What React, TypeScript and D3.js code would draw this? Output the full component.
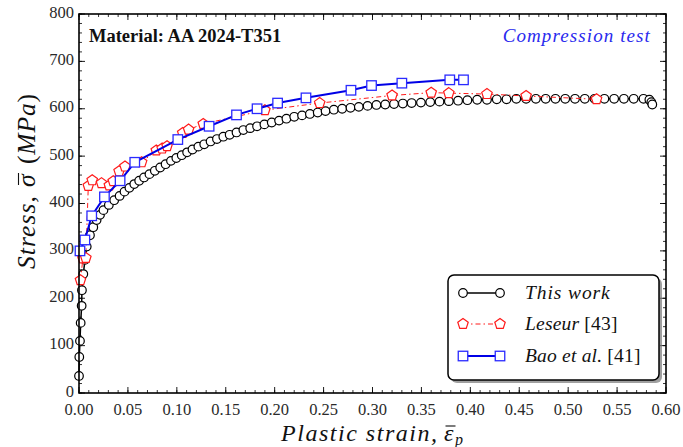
import React from 'react';
import * as d3 from 'd3';

// ---- data (strain, stress MPa) ----
const thisWorkStrain = [0.0, 0.0003, 0.001, 0.0017, 0.0027, 0.003, 0.0044, 0.0061, 0.0079, 0.0112, 0.0146, 0.018, 0.0215, 0.025, 0.0305, 0.036, 0.0415, 0.0465, 0.0515, 0.0565, 0.0615, 0.0665, 0.072, 0.0775, 0.083, 0.0885, 0.094, 0.0995, 0.105, 0.1105, 0.116, 0.122, 0.128, 0.1345, 0.141, 0.1475, 0.154, 0.161, 0.168, 0.175, 0.182, 0.1895, 0.197, 0.2045, 0.212, 0.22, 0.228, 0.236, 0.244, 0.252, 0.2605, 0.269, 0.2775, 0.286, 0.295, 0.304, 0.313, 0.322, 0.331, 0.34, 0.3495, 0.359, 0.3685, 0.378, 0.3875, 0.397, 0.407, 0.417, 0.427, 0.437, 0.447, 0.457, 0.467, 0.477, 0.487, 0.497, 0.507, 0.517, 0.527, 0.537, 0.547, 0.557, 0.567, 0.577, 0.583, 0.585, 0.586];
const thisWorkStress = [36, 76, 110, 148, 184, 217, 251, 281, 309, 333, 350, 365, 376, 386, 397, 407, 416, 425, 433, 441, 448, 455, 462, 469, 476, 483, 490, 496, 502, 508, 514, 520, 525, 531, 536, 541, 545, 550, 555, 559, 563, 567, 571, 575, 579, 583, 586, 589, 592, 595, 598, 600, 602, 604, 606, 608, 609, 610, 611, 612, 613, 614, 615, 616, 617, 618, 619, 619, 620, 620, 621, 621, 621, 621, 621, 621, 621, 621, 621, 621, 621, 621, 621, 621, 619, 614, 609];

const leseurStrain = [0.0015, 0.004, 0.007, 0.0095, 0.0135, 0.023, 0.031, 0.035, 0.041, 0.047, 0.064, 0.079, 0.085, 0.09, 0.106, 0.112, 0.127, 0.19, 0.246, 0.32, 0.36, 0.378, 0.417, 0.457, 0.529];
const leseurStress = [238, 284, 285, 437, 449, 443, 438, 447, 468, 478, 487, 512, 516, 521, 549, 556, 568, 597, 612, 628, 634, 633, 631, 627, 620];

const baoStrain = [0.001, 0.006, 0.013, 0.026, 0.042, 0.057, 0.101, 0.133, 0.161, 0.182, 0.203, 0.232, 0.278, 0.299, 0.33, 0.379, 0.393];
const baoStress = [300, 323, 374, 414, 448, 487, 535, 563, 587, 600, 612, 623, 639, 649, 654, 661, 661];

const xTickValues = [0, 0.05, 0.1, 0.15, 0.2, 0.25, 0.3, 0.35, 0.4, 0.45, 0.5, 0.55, 0.6];
const yTickValues = [0, 100, 200, 300, 400, 500, 600, 700, 800];

const W = 683;
const H = 447;
const L = 79, R = 666, T = 14, B = 393;
const SERIF = '"Liberation Serif", "DejaVu Serif", serif';

function pentagonPath(r: number) {
  const pts = d3.range(5).map((k) => {
    const a = (-90 + 72 * k) * Math.PI / 180;
    return [r * Math.cos(a), r * Math.sin(a)];
  });
  return 'M' + pts.map((p) => p.join(',')).join('L') + 'Z';
}

export default function App() {
  const x = d3.scaleLinear().domain([0, 0.6]).range([L, R]);
  const y = d3.scaleLinear().domain([0, 800]).range([B, T]);
  const line = d3.line<[number, number]>().x((d) => x(d[0])).y((d) => y(d[1]));

  const black: [number, number][] = thisWorkStrain.map((s, i) => [s, thisWorkStress[i]]);
  const red: [number, number][] = leseurStrain.map((s, i) => [s, leseurStress[i]]);
  const blue: [number, number][] = baoStrain.map((s, i) => [s, baoStress[i]]);

  const xMinor = d3.range(0, 0.6001, 0.01);
  const yMinor = d3.range(0, 801, 20);
  const pent = pentagonPath(5.5);
  const sq = 9.5;

  const legX0 = 463, legX1 = 500, legT = 525;
  const rows = [293, 324, 356];
  const redC = '#ff1a1a';
  const blueL = '#0000e6';
  const blueM = '#2a2aff';

  return (
    <svg width={W} height={H} style={{ position: 'absolute', left: 0, top: 0, background: '#fff' }}>
      <rect x={0} y={0} width={W} height={H} fill="#fff" />
      {/* minor ticks */}
      {xMinor.map((v, i) => (
        <g key={'xm' + i} stroke="#000" strokeWidth={0.8}>
          <line x1={x(v)} x2={x(v)} y1={B} y2={B - 3} />
          <line x1={x(v)} x2={x(v)} y1={T} y2={T + 3} />
        </g>
      ))}
      {yMinor.map((v, i) => (
        <g key={'ym' + i} stroke="#000" strokeWidth={0.8}>
          <line x1={L} x2={L + 3} y1={y(v)} y2={y(v)} />
          <line x1={R} x2={R - 3} y1={y(v)} y2={y(v)} />
        </g>
      ))}
      {xTickValues.map((v, i) => (
        <g key={'x' + i}>
          <line x1={x(v)} x2={x(v)} y1={B} y2={B - 6} stroke="#000" strokeWidth={0.9} />
          <line x1={x(v)} x2={x(v)} y1={T} y2={T + 6} stroke="#000" strokeWidth={0.9} />
          <text x={x(v)} y={B + 21.5} textAnchor="middle" fontFamily={SERIF} fontSize={16.5} fill="#2a2a2a">
            {d3.format('.2f')(v)}
          </text>
        </g>
      ))}
      {yTickValues.map((v, i) => (
        <g key={'y' + i}>
          <line x1={L} x2={L + 6} y1={y(v)} y2={y(v)} stroke="#000" strokeWidth={0.9} />
          <line x1={R} x2={R - 6} y1={y(v)} y2={y(v)} stroke="#000" strokeWidth={0.9} />
          <text x={L - 5} y={y(v) + 3.5} textAnchor="end" fontFamily={SERIF} fontSize={16.5} fill="#2a2a2a">
            {v}
          </text>
        </g>
      ))}

      {/* This work */}
      <path d={line(black) || ''} fill="none" stroke="#000" strokeWidth={1.5} />
      {black.map((d, i) => (
        <circle key={'b' + i} cx={x(d[0])} cy={y(d[1])} r={4.3} fill="#fff" stroke="#000" strokeWidth={1.2} />
      ))}
      {/* Leseur */}
      <path d={line(red) || ''} fill="none" stroke={redC} strokeWidth={1} strokeDasharray="5,3,1.5,3" />
      {red.map((d, i) => (
        <path key={'r' + i} d={pent} transform={`translate(${x(d[0])},${y(d[1])})`} fill="#fff" stroke={redC} strokeWidth={1.2} />
      ))}
      {/* Bao */}
      <path d={line(blue) || ''} fill="none" stroke={blueL} strokeWidth={2} />
      {blue.map((d, i) => (
        <rect key={'s' + i} x={x(d[0]) - sq / 2} y={y(d[1]) - sq / 2} width={sq} height={sq} fill="#fff" stroke={blueM} strokeWidth={1.3} />
      ))}

      {/* frame */}
      <rect x={L} y={T} width={R - L} height={B - T} fill="none" stroke="#000" strokeWidth={1.6} />

      {/* annotations */}
      <text x={89} y={42} fontFamily={SERIF} fontWeight="bold" fontSize={18.5} fill="#111">Material: AA 2024-T351</text>
      <text x={651} y={42} textAnchor="end" fontFamily={SERIF} fontStyle="italic" fontSize={19} letterSpacing={1.1} fill="#2a2aee">Compression test</text>

      {/* legend */}
      <rect x={451} y={278} width={211} height={105} rx={6} fill="#777" opacity={0.7} />
      <rect x={448} y={275} width={211} height={105} rx={6} fill="#fff" stroke="#000" strokeWidth={1.5} />
      <line x1={legX0} x2={legX1} y1={rows[0]} y2={rows[0]} stroke="#000" strokeWidth={1.5} />
      <circle cx={legX0} cy={rows[0]} r={4.3} fill="#fff" stroke="#000" strokeWidth={1.2} />
      <circle cx={legX1} cy={rows[0]} r={4.3} fill="#fff" stroke="#000" strokeWidth={1.2} />
      <line x1={legX0} x2={legX1} y1={rows[1]} y2={rows[1]} stroke={redC} strokeWidth={1} strokeDasharray="5,3,1.5,3" />
      <path d={pent} transform={`translate(${legX0},${rows[1]})`} fill="#fff" stroke={redC} strokeWidth={1.2} />
      <path d={pent} transform={`translate(${legX1},${rows[1]})`} fill="#fff" stroke={redC} strokeWidth={1.2} />
      <line x1={legX0} x2={legX1} y1={rows[2]} y2={rows[2]} stroke={blueL} strokeWidth={2} />
      <rect x={legX0 - sq / 2} y={rows[2] - sq / 2} width={sq} height={sq} fill="#fff" stroke={blueM} strokeWidth={1.3} />
      <rect x={legX1 - sq / 2} y={rows[2] - sq / 2} width={sq} height={sq} fill="#fff" stroke={blueM} strokeWidth={1.3} />
      <text x={legT} y={rows[0] + 6} fontFamily={SERIF} fontSize={19.5} letterSpacing={0.9} fill="#111">
        <tspan fontStyle="italic">This work</tspan>
      </text>
      <text x={legT} y={rows[1] + 6} fontFamily={SERIF} fontSize={19.5} letterSpacing={0.2} fill="#111">
        <tspan fontStyle="italic">Leseur</tspan> [43]
      </text>
      <text x={legT} y={rows[2] + 6} fontFamily={SERIF} fontSize={19.5} letterSpacing={0.2} fill="#111">
        <tspan fontStyle="italic">Bao et al.</tspan> [41]
      </text>

      {/* x axis label */}
      <g fontFamily={SERIF} fill="#111" fontStyle="italic">
        <text x={281} y={441} fontSize={24} textLength={156} lengthAdjust="spacing">Plastic strain,</text>
        <text x={444} y={441} fontSize={24}>ε</text>
        <line x1={445.5} x2={455.5} y1={426} y2={426} stroke="#111" strokeWidth={1.1} />
        <text x={455} y={445} fontSize={16}>p</text>
      </g>
      {/* y axis label */}
      <g transform="translate(35,0) rotate(-90)" fontFamily={SERIF} fill="#111">
        <text x={-269} y={0} fontSize={25.5} fontStyle="italic" textLength={73} lengthAdjust="spacing">Stress,</text>
        <text x={-187} y={0} fontSize={25.5} fontStyle="italic">σ</text>
        <line x1={-185} x2={-173} y1={-16.5} y2={-16.5} stroke="#111" strokeWidth={1.1} />
        <text x={-164} y={0} fontSize={25.5} textLength={70} lengthAdjust="spacing">
          <tspan>(</tspan>
          <tspan fontStyle="italic">MPa</tspan>
          <tspan>)</tspan>
        </text>
      </g>
    </svg>
  );
}
